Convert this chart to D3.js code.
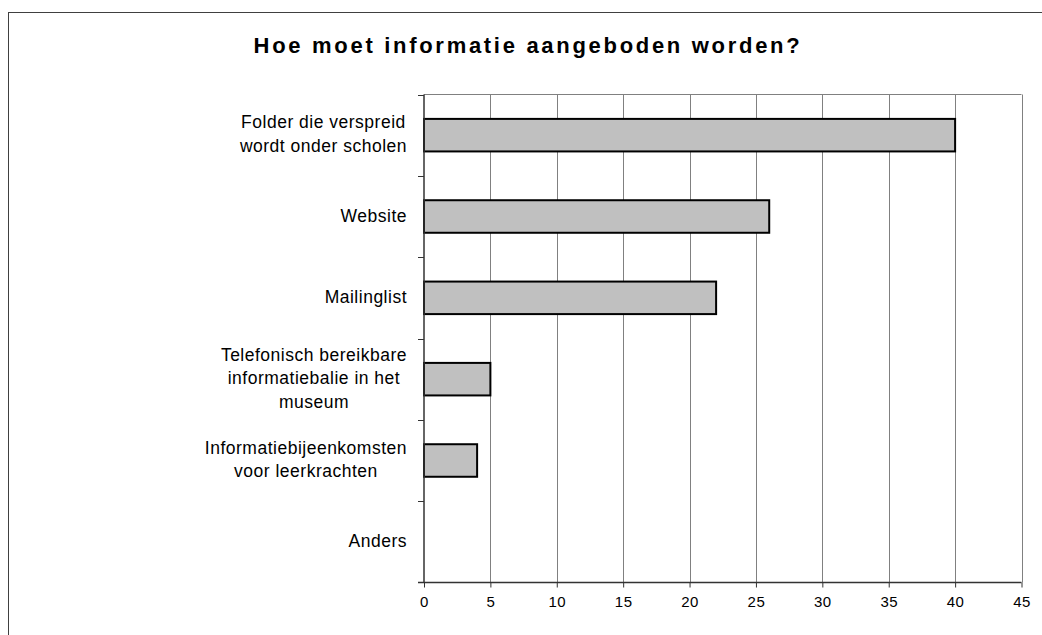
<!DOCTYPE html>
<html>
<head>
<meta charset="utf-8">
<script src="https://cdn.jsdelivr.net/npm/d3@7"></script>
<style>
  body { margin: 0; background: #fff; }
  text { font-family: "Liberation Sans", Arial, sans-serif; }
</style>
</head>
<body>
<svg id="chart"></svg>
<script>
// data
const categories = [
  ["Folder die verspreid", "wordt onder scholen"],
  ["Website"],
  ["Mailinglist"],
  ["Telefonisch bereikbare", "informatiebalie in het", "museum"],
  ["Informatiebijeenkomsten", "voor leerkrachten"],
  ["Anders"]
];
const values = [40, 26, 22, 5, 4, 0];
const xTicks = [0, 5, 10, 15, 20, 25, 30, 35, 40, 45];
const title = "Hoe moet informatie aangeboden worden?";

const width = 1042, height = 635;
const svg = d3.select('#chart').attr('width', width).attr('height', height);

// outer chart frame
svg.append('rect')
  .attr('x', 8.5).attr('y', 12.5)
  .attr('width', 1040).attr('height', 640)
  .attr('fill', 'none').attr('stroke', '#404040');

const plot = { left: 424, right: 1021.5, top: 94.5, bottom: 582.5 };

const x = d3.scaleLinear().domain([0, 45]).range([plot.left, plot.right]);
const y = d3.scaleBand()
  .domain(d3.range(categories.length))
  .range([plot.top, plot.bottom])
  .paddingInner(0.6).paddingOuter(0.3);
const yb = d3.scaleBand().domain(d3.range(categories.length)).range([plot.top, plot.bottom]);

svg.append('text')
  .attr('x', 528).attr('y', 53)
  .attr('text-anchor', 'middle')
  .style('font-size', '22px').style('font-weight', 'bold')
  .style('letter-spacing', '2.7px')
  .text(title);

// gridlines
svg.append('g').selectAll('line')
  .data(xTicks.slice(1))
  .join('line')
  .attr('x1', d => Math.round(x(d)) + 0.5).attr('x2', d => Math.round(x(d)) + 0.5)
  .attr('y1', plot.top).attr('y2', plot.bottom)
  .attr('stroke', '#808080');
svg.append('line')
  .attr('x1', plot.left).attr('x2', plot.right)
  .attr('y1', plot.top).attr('y2', plot.top)
  .attr('stroke', '#808080');

// bars
svg.append('g').selectAll('rect')
  .data(values)
  .join('rect')
  .attr('x', plot.left)
  .attr('y', (d, i) => y(i))
  .attr('width', d => x(d) - plot.left)
  .attr('height', y.bandwidth())
  .attr('fill', d => d > 0 ? '#c0c0c0' : 'none')
  .attr('stroke', d => d > 0 ? '#000' : 'none')
  .attr('stroke-width', 2);

// x axis
const xAxis = svg.append('g')
  .attr('transform', `translate(0,${plot.bottom})`)
  .call(d3.axisBottom(x).tickValues(xTicks).tickSize(5).tickSizeOuter(0).tickPadding(9));
xAxis.select('.domain').attr('stroke', '#333').attr('stroke-width', 1.5);
xAxis.selectAll('line').attr('stroke', '#333');
xAxis.selectAll('text').style('font-size', '15px').style('letter-spacing', '0.5px').attr('fill', '#000');
xAxis.select('.domain').attr('d', `M${plot.left - 6},0H${plot.right}`);

// y axis (category boundaries as ticks)
const yAxisG = svg.append('g');
yAxisG.append('line')
  .attr('x1', plot.left).attr('x2', plot.left)
  .attr('y1', plot.top).attr('y2', plot.bottom)
  .attr('stroke', '#333').attr('stroke-width', 1.5);
yAxisG.selectAll('line.tk')
  .data(d3.range(categories.length))
  .join('line').attr('class', 'tk')
  .attr('x1', plot.left - 6).attr('x2', plot.left)
  .attr('y1', i => Math.round(yb(i)) + 0.5).attr('y2', i => Math.round(yb(i)) + 0.5)
  .attr('stroke', '#333');

// category labels: centered block, right edge near axis
const lineH = 23.5;
const labels = svg.append('g').selectAll('text')
  .data(categories)
  .join('text')
  .style('font-size', '17.5px')
  .style('letter-spacing', '0.5px')
  .attr('fill', '#000')
  .attr('text-anchor', 'middle');
labels.each(function(lines, i) {
  const t = d3.select(this);
  const cy = yb(i) + yb.bandwidth() / 2;
  lines.forEach((l, j) => {
    t.append('tspan').text(l)
      .attr('y', cy + (j - (lines.length - 1) / 2) * lineH + 5);
  });
  const w = d3.max(t.selectAll('tspan').nodes(), n => n.getComputedTextLength());
  t.selectAll('tspan').attr('x', 407 - w / 2);
});
</script>
</body>
</html>
